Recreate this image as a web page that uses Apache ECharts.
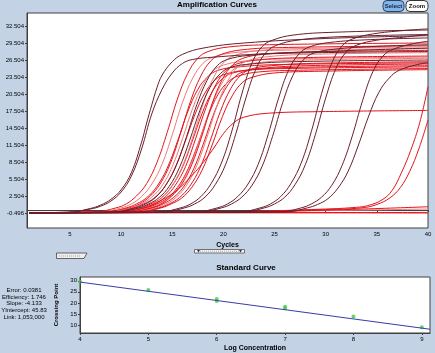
<!DOCTYPE html>
<html>
<head>
<meta charset="utf-8">
<script src="https://cdn.jsdelivr.net/npm/echarts@6/dist/echarts.min.js"></script>
<style>
    html, body {margin: 0; padding: 0; background: #c3d3e5;}
    #chart {width: 435px; height: 353px;}
</style>
</head>
<body>
<div id="chart"></div>
<script>
// ticks
const cycleTicks = [5, 10, 15, 20, 25, 30, 35, 40];
const fluorTicks = [-0.496, 2.504, 5.504, 8.504, 11.504, 14.504, 17.504, 20.504, 23.504, 26.504, 29.504, 32.504];
const logConcTicks = [4, 5, 6, 7, 8, 9];
const crossingTicks = [10, 15, 20, 25, 30];

// standard curve
const standardPoints = [[4, 29.5], [5, 25.8], [6, 21.8], [6, 20.9], [7, 18.3], [7, 17.6], [8, 13.9], [9, 9.0]];
const fitLine = [[4, 29.4], [9.12, 8.1]];
const fitStats = ['Error: 0.0381', 'Efficiency: 1.746', 'Slope: -4.133', 'YIntercept: 45.83', 'Link: 1,053,000'];

// amplification curves, [cycle, fluorescence]
const flat1 = [[1, -0.5], [20, -0.45], [40, -0.4]];
const flat2 = [[1, -0.45], [20, -0.3], [40, 0.2]];
const flat3 = [[1, -0.5], [25, -0.2], [40, 0.6]];
const flat4 = [[1, -0.4], [20, -0.45], [40, -0.5]];

const a1 = [[1, -0.45], [5, -0.35], [7, 0.3], [8, 0.9], [9, 1.9], [10, 3.6], [11, 6.6], [12, 12.0], [12.5, 15.4], [13, 18.6], [13.5, 21.6], [14, 23.8], [15, 26.2], [16, 27.5], [18, 28.6], [22, 29.5], [30, 30.3], [40, 30.8]];
const a2 = [[1, -0.45], [5, -0.35], [7, 0.2], [8, 0.7], [9, 1.6], [10, 3.2], [11, 6.0], [12, 10.8], [13, 17.0], [14, 21.3], [15, 24.2], [16, 25.9], [17, 26.6], [19, 27.0], [25, 27.7], [40, 28.6]];

const b1 = [[1, -0.45], [7.5, -0.3], [9.5, 0.4], [10.5, 1.1], [11.5, 2.5], [12.5, 4.7], [13.5, 8.4], [14.5, 13.7], [15.5, 19.6], [16.5, 24.1], [17.5, 26.8], [18.5, 28.0], [20.5, 28.8], [24.5, 29.2], [40, 29.5]];
const b2 = [[1, -0.45], [8, -0.3], [10, 0.4], [11, 1.1], [12, 2.4], [13, 4.6], [14, 8.1], [15, 13.3], [16, 19.0], [17, 23.3], [18, 25.9], [19, 27.0], [21, 27.8], [25, 28.2], [40, 28.5]];
const b3 = [[1, -0.45], [8.5, -0.3], [10.5, 0.4], [11.5, 1.1], [12.5, 2.2], [13.5, 4.2], [14.5, 7.4], [15.5, 12.1], [16.5, 17.3], [17.5, 21.3], [18.5, 23.6], [19.5, 24.7], [21.5, 25.3], [25.5, 25.7], [40, 26.0]];
const b4 = [[1, -0.45], [8.8, -0.3], [10.8, 0.4], [11.8, 1.1], [12.8, 2.4], [13.8, 4.6], [14.8, 8.2], [15.8, 13.5], [16.8, 19.3], [17.8, 23.7], [18.8, 26.4], [19.8, 27.5], [21.8, 28.3], [25.8, 28.7], [40, 29.0]];
const b5 = [[1, -0.45], [9, -0.3], [11, 0.4], [12, 1.1], [13, 2.3], [14, 4.3], [15, 7.7], [16, 12.6], [17, 18.0], [18, 22.1], [19, 24.6], [20, 25.6], [22, 26.3], [26, 26.7], [40, 27.0]];
const b6 = [[1, -0.45], [9.2, -0.3], [11.2, 0.4], [12.2, 1.1], [13.2, 2.1], [14.2, 4.0], [15.2, 7.2], [16.2, 11.8], [17.2, 16.8], [18.2, 20.7], [19.2, 23.0], [20.2, 24.0], [22.2, 24.7], [26.2, 25.0], [40, 25.3]];
const b7 = [[1, -0.45], [9.4, -0.3], [11.4, 0.4], [12.4, 1.1], [13.4, 2.3], [14.4, 4.5], [15.4, 7.9], [16.4, 13.0], [17.4, 18.6], [18.4, 22.9], [19.4, 25.5], [20.4, 26.6], [22.4, 27.3], [26.4, 27.7], [40, 28.0]];
const b8 = [[1, -0.45], [9.7, -0.3], [11.7, 0.4], [12.7, 1.1], [13.7, 2.2], [14.7, 4.2], [15.7, 7.5], [16.7, 12.3], [17.7, 17.6], [18.7, 21.7], [19.7, 24.1], [20.7, 25.2], [22.7, 25.8], [26.7, 26.2], [40, 26.5]];
const b9 = [[1, -0.45], [9.9, -0.3], [11.9, 0.4], [12.9, 1.1], [13.9, 2.1], [14.9, 4.1], [15.9, 7.2], [16.9, 11.9], [17.9, 17.0], [18.9, 20.9], [19.9, 23.2], [20.9, 24.2], [22.9, 24.8], [26.9, 25.2], [40, 25.5]];
const b10 = [[1, -0.45], [10.1, -0.3], [12.1, 0.4], [13.1, 1.1], [14.1, 2.4], [15.1, 4.6], [16.1, 8.2], [17.1, 13.4], [18.1, 19.2], [19.1, 23.6], [20.1, 26.2], [21.1, 27.3], [23.1, 28.1], [27.1, 28.5], [40, 28.8]];
const b11 = [[1, -0.45], [10.3, -0.3], [12.3, 0.4], [13.3, 1.1], [14.3, 2.3], [15.3, 4.4], [16.3, 7.7], [17.3, 12.7], [18.3, 18.1], [19.3, 22.3], [20.3, 24.7], [21.3, 25.8], [23.3, 26.5], [27.3, 26.9], [40, 27.2]];
const b12 = [[1, -0.45], [10.5, -0.3], [12.5, 0.4], [13.5, 1.1], [14.5, 2.1], [15.5, 4.0], [16.5, 7.1], [17.5, 11.6], [18.5, 16.6], [19.5, 20.5], [20.5, 22.7], [21.5, 23.7], [23.5, 24.4], [27.5, 24.7], [40, 25.0]];
const b13 = [[1, -0.45], [10.7, -0.3], [12.7, 0.4], [13.7, 1.1], [14.7, 2.2], [15.7, 4.3], [16.7, 7.6], [17.7, 12.5], [18.7, 17.8], [19.7, 21.9], [20.7, 24.4], [21.7, 25.4], [23.7, 26.1], [27.7, 26.5], [40, 26.8]];
const b14 = [[1, -0.45], [10.9, -0.3], [12.9, 0.4], [13.9, 1.1], [14.9, 2.4], [15.9, 4.5], [16.9, 8.0], [17.9, 13.1], [18.9, 18.8], [19.9, 23.1], [20.9, 25.6], [21.9, 26.8], [23.9, 27.5], [27.9, 27.9], [40, 28.2]];
const b15 = [[1, -0.45], [11.1, -0.3], [13.1, 0.4], [14.1, 1.1], [15.1, 2.2], [16.1, 4.1], [17.1, 7.3], [18.1, 12.0], [19.1, 17.2], [20.1, 21.1], [21.1, 23.5], [22.1, 24.5], [24.1, 25.1], [28.1, 25.5], [40, 25.8]];
const b16 = [[1, -0.45], [11.4, -0.3], [13.4, 0.4], [14.4, 1.1], [15.4, 2.3], [16.4, 4.4], [17.4, 7.9], [18.4, 12.9], [19.4, 18.5], [20.4, 22.7], [21.4, 25.3], [22.4, 26.4], [24.4, 27.1], [28.4, 27.5], [40, 27.8]];
const b17 = [[1, -0.45], [11.7, -0.3], [13.7, 0.4], [14.7, 1.1], [15.7, 2.2], [16.7, 4.2], [17.7, 7.4], [18.7, 12.2], [19.7, 17.4], [20.7, 21.4], [21.7, 23.8], [22.7, 24.9], [24.7, 25.5], [28.7, 25.9], [40, 26.2]];
const b18 = [[1, -0.45], [11.9, -0.3], [13.9, 0.4], [14.9, 1.1], [15.9, 2.1], [16.9, 4.0], [17.9, 7.0], [18.9, 11.5], [19.9, 16.5], [20.9, 20.3], [21.9, 22.6], [22.9, 23.5], [24.9, 24.2], [28.9, 24.5], [40, 24.8]];

const lowPlateau = [[1, -0.45], [10, -0.3], [12, 0.3], [14, 1.8], [15.5, 3.6], [16.8, 5.9], [17.7, 7.7], [19, 10.8], [20, 13.5], [21, 15.4], [22, 16.4], [24.3, 17.1], [30, 17.4], [40, 17.6]];

const d1 = [[1, -0.45], [13.8, -0.3], [15.8, 0.4], [16.8, 1.1], [17.8, 2.4], [18.8, 4.7], [19.8, 8.3], [20.8, 13.8], [21.8, 20.5], [22.8, 26.0], [23.8, 28.9], [24.8, 30.0], [26.8, 30.9], [30.8, 31.4], [40, 31.8]];
const d2 = [[1, -0.45], [14.2, -0.3], [16.2, 0.4], [17.2, 1.1], [18.2, 2.3], [19.2, 4.5], [20.2, 8.0], [21.2, 13.4], [22.2, 19.8], [23.2, 25.0], [24.2, 27.9], [25.2, 29.1], [27.2, 30.0], [31.2, 30.6], [40, 31.0]];
const e1 = [[1, -0.45], [17.4, -0.3], [19.4, 0.4], [20.4, 1.1], [21.4, 2.4], [22.4, 4.6], [23.4, 8.1], [24.4, 13.5], [25.4, 19.8], [26.4, 24.8], [27.4, 27.6], [28.4, 28.8], [30.4, 29.6], [34.4, 30.1], [40, 30.4]];
const e2 = [[1, -0.45], [17.8, -0.3], [19.8, 0.4], [20.8, 1.1], [21.8, 2.3], [22.8, 4.4], [23.8, 7.8], [24.8, 13.0], [25.8, 19.0], [26.8, 23.8], [27.8, 26.5], [28.8, 27.7], [30.8, 28.4], [34.8, 28.9], [40, 29.2]];
const f1 = [[1, -0.45], [21.6, -0.3], [23.6, 0.4], [24.6, 1.1], [25.6, 2.4], [26.6, 4.7], [27.6, 8.3], [28.6, 13.9], [29.6, 20.6], [30.6, 26.0], [31.6, 29.0], [32.6, 30.2], [34.6, 31.1], [37.6, 31.7], [40, 32.0]];
const f2 = [[1, -0.45], [22, -0.3], [24, 0.4], [25, 1.1], [26, 2.3], [27, 4.5], [28, 8.0], [29, 13.4], [30, 19.8], [31, 25.0], [32, 27.9], [33, 29.1], [35, 30.0], [38, 30.6], [40, 31.0]];
const g1 = [[1, -0.45], [25.6, -0.3], [27.6, 0.4], [28.6, 1.1], [29.6, 2.3], [30.6, 4.4], [31.6, 7.9], [32.6, 13.1], [33.6, 19.3], [34.6, 24.4], [35.6, 27.2], [36.6, 28.4], [38.6, 29.4], [40, 29.8]];
const g2 = [[1, -0.45], [26.2, -0.3], [28.2, 0.4], [29.2, 1.0], [30.2, 2.0], [31.2, 3.9], [32.2, 6.9], [33.2, 11.5], [34.2, 16.6], [35.2, 20.8], [36.2, 23.3], [37.2, 24.7], [39.2, 25.8], [40, 26.0]];

const late1 = [[1, -0.45], [20, -0.3], [30, 0.2], [33, 0.5], [34.1, 0.8], [35.5, 1.8], [36.5, 3.5], [37.4, 6.6], [38.3, 10.5], [39.2, 15.5], [40, 21.8]];
const late2 = [[1, -0.45], [20, -0.35], [30, 0.1], [33.5, 0.4], [35, 1.0], [36.3, 2.2], [37.3, 4.0], [38.2, 6.8], [39.1, 10.8], [40, 15.9]];

const RED = '#e3141c';
const PINK = '#f27878';
const DARK = '#6a1f2b';

const amplificationCurves = [
    [flat1, RED], [flat2, PINK], [flat3, RED], [flat4, RED],
    [b1, RED], [b2, PINK], [b3, RED], [b4, RED], [b5, PINK], [b6, RED],
    [b9, RED], [b10, PINK], [b11, RED], [b12, RED], [b13, PINK], [b14, RED],
    [b15, RED], [b16, PINK], [b17, RED], [b18, RED],
    [lowPlateau, RED], [late1, RED], [late2, RED],
    [b7, DARK], [b8, DARK],
    [a1, DARK], [a2, DARK], [d1, DARK], [d2, DARK], [e1, DARK], [e2, DARK],
    [f1, DARK], [f2, DARK], [g1, DARK], [g2, DARK]
];

function amplificationChart(divUrl) {
    const myChart = echarts.init(document.getElementById(divUrl));
    const font = 'Liberation Sans';
    const axisColor = '#404040';

    const series = amplificationCurves.map(function (c) {
        return {
            type: 'line',
            xAxisIndex: 0,
            yAxisIndex: 0,
            data: c[0],
            smooth: 0.4,
            symbol: 'none',
            silent: true,
            lineStyle: {width: 1, color: c[1]}
        };
    });

    series.push({
        type: 'line',
        xAxisIndex: 1,
        yAxisIndex: 1,
        data: fitLine,
        symbol: 'none',
        silent: true,
        lineStyle: {width: 1, color: '#3a3aa8'}
    });
    series.push({
        type: 'scatter',
        xAxisIndex: 1,
        yAxisIndex: 1,
        data: standardPoints,
        symbol: 'circle',
        symbolSize: 4,
        silent: true,
        itemStyle: {color: '#3fd03f'}
    });

    const option = {
        animation: false,
        backgroundColor: '#c3d3e5',
        textStyle: {fontFamily: font},
        title: [
            {
                text: 'Amplification Curves',
                left: 217,
                textAlign: 'center',
                top: 1,
                padding: 0,
                textStyle: {fontSize: 8, fontWeight: 'bold', color: '#000', fontFamily: font}
            },
            {
                text: 'Standard Curve',
                left: 246,
                textAlign: 'center',
                top: 264,
                padding: 0,
                textStyle: {fontSize: 8, fontWeight: 'bold', color: '#000', fontFamily: font}
            }
        ],
        grid: [
            {left: 27, right: 7, top: 13, height: 215, outerBoundsMode: 'none', show: true, backgroundColor: '#fff', borderColor: axisColor, borderWidth: 1},
            {left: 80, right: 5, top: 277, height: 56, outerBoundsMode: 'none', show: true, backgroundColor: '#fff', borderColor: axisColor, borderWidth: 1}
        ],
        xAxis: [
            {
                gridIndex: 0,
                type: 'value',
                min: 0.8,
                max: 40,
                name: 'Cycles',
                nameLocation: 'middle',
                nameGap: 12,
                nameTextStyle: {fontSize: 7, fontWeight: 'bold', color: '#000'},
                axisLine: {show: true, lineStyle: {color: axisColor}},
                axisTick: {show: true, length: 2, customValues: cycleTicks, lineStyle: {color: axisColor}},
                axisLabel: {fontSize: 6, margin: 3, color: '#000', customValues: cycleTicks},
                splitLine: {show: false}
            },
            {
                gridIndex: 1,
                type: 'value',
                min: 4,
                max: 9.12,
                name: 'Log Concentration',
                nameLocation: 'middle',
                nameGap: 12,
                nameTextStyle: {fontSize: 7, fontWeight: 'bold', color: '#000'},
                axisLine: {show: true, lineStyle: {color: axisColor}},
                axisTick: {show: true, length: 2, customValues: logConcTicks, lineStyle: {color: axisColor}},
                axisLabel: {fontSize: 6, margin: 3, color: '#000', customValues: logConcTicks},
                splitLine: {show: false}
            }
        ],
        yAxis: [
            {
                gridIndex: 0,
                type: 'value',
                min: -3.15,
                max: 34.8,
                name: 'Fluorescence (483-533)',
                nameLocation: 'middle',
                nameGap: 21,
                nameTextStyle: {fontSize: 6, fontWeight: 'bold', color: '#000'},
                axisLine: {show: true, lineStyle: {color: axisColor}},
                axisTick: {show: true, length: 2, customValues: fluorTicks, lineStyle: {color: axisColor}},
                axisLabel: {
                    fontSize: 6, margin: 3, color: '#000', customValues: fluorTicks,
                    formatter: function (v) {
                        return v.toFixed(3);
                    }
                },
                splitLine: {show: false}
            },
            {
                gridIndex: 1,
                type: 'value',
                min: 6.4,
                max: 31.7,
                name: 'Crossing Point',
                nameLocation: 'middle',
                nameGap: 14,
                nameTextStyle: {fontSize: 6, fontWeight: 'bold', color: '#000'},
                axisLine: {show: true, lineStyle: {color: axisColor}},
                axisTick: {show: true, length: 2, customValues: crossingTicks, lineStyle: {color: axisColor}},
                axisLabel: {fontSize: 6, margin: 3, color: '#000', customValues: crossingTicks},
                splitLine: {show: false}
            }
        ],
        graphic: [
            // Select / Zoom buttons
            {type: 'rect', shape: {x: 383, y: 0.5, width: 21, height: 11, r: 4}, style: {fill: '#86b4e4', stroke: '#24426e', lineWidth: 1}},
            {type: 'text', x: 393.5, y: 6.5, style: {text: 'Select', fontSize: 6, fontWeight: 'bold', fontFamily: font, fill: '#102448', align: 'center', verticalAlign: 'middle'}},
            {type: 'rect', shape: {x: 406, y: 0.5, width: 22, height: 11, r: 4}, style: {fill: '#ffffff', stroke: '#333', lineWidth: 1}},
            {type: 'text', x: 417, y: 6.5, style: {text: 'Zoom', fontSize: 6, fontWeight: 'bold', fontFamily: font, fill: '#111', align: 'center', verticalAlign: 'middle'}},
            // small slider under the plot
            {type: 'rect', shape: {x: 194.5, y: 249.5, width: 50, height: 3.5}, style: {fill: '#f4f4f4', stroke: '#555', lineWidth: 0.8}},
            {type: 'line', shape: {x1: 200, y1: 251.2, x2: 239, y2: 251.2}, style: {stroke: '#777', lineWidth: 0.6, lineDash: [1, 1]}},
            {type: 'polygon', shape: {points: [[197, 250], [200, 250], [198.5, 252.5]]}, style: {fill: '#333'}},
            {type: 'polygon', shape: {points: [[239, 250], [242, 250], [240.5, 252.5]]}, style: {fill: '#333'}},
            // tab on the left
            {type: 'polygon', shape: {points: [[56.5, 253], [87, 253], [84, 258.5], [56.5, 258.5]]}, style: {fill: '#eeeeee', stroke: '#444', lineWidth: 0.8}},
            {type: 'line', shape: {x1: 59, y1: 256, x2: 80, y2: 256}, style: {stroke: '#777', lineWidth: 0.6, lineDash: [1, 1]}},
            // fit statistics
            {
                type: 'text', x: 24, y: 287,
                style: {
                    text: fitStats.join('\n'),
                    fontSize: 6, lineHeight: 6.7, fontFamily: font, fill: '#000',
                    align: 'center', verticalAlign: 'top'
                }
            }
        ],
        series: series
    };

    myChart.setOption(option);
    return myChart;
}

amplificationChart('chart');
</script>
</body>
</html>
